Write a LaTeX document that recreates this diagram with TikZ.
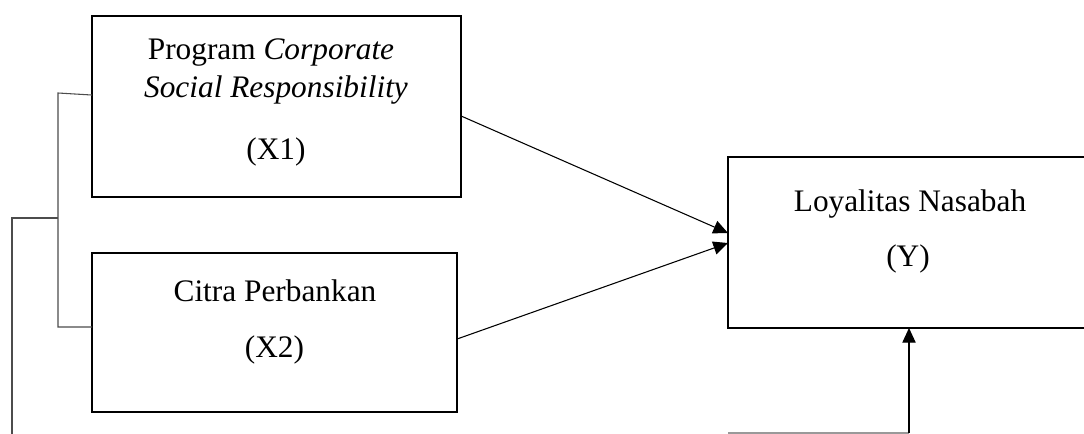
\documentclass[tikz,border=0pt]{standalone}
\usepackage{fontspec}
\setmainfont{Liberation Serif}
\usetikzlibrary{arrows.meta,calc}
\tikzset{
  box/.style={draw=black, line width=1.5pt, rectangle, inner sep=0pt, outer sep=0pt},
  lbl/.style={anchor=base, inner sep=0pt, font=\fontsize{23.5}{28}\selectfont},
  conn/.style={draw=black, line width=0.8pt, -{Triangle[length=11pt,width=10pt]}},
  brk/.style={draw=black!70, line width=0.8pt},
  faint/.style={draw=black!40, line width=0.8pt}
}
\begin{document}
\begin{tikzpicture}[x=0.75pt,y=-0.75pt]
\useasboundingbox (0,0) rectangle (1084,434);
\clip (0,0) rectangle (1084,434);
\fill[white] (0,0) rectangle (1084,434);
% boxes
\node[box, minimum width=276.75pt, minimum height=135.75pt] (X1) at (276.5,106.5) {};
\node[box, minimum width=273.75pt, minimum height=119.25pt] (X2) at (274.5,332.5) {};
\node[box, minimum width=269.25pt, minimum height=128.25pt] (Y) at (907.5,242.5) {};
% texts
\node[lbl] (t1a) at (271,60) {Program \textit{Corporate}};
\node[lbl] (t1b) at (276,98) {\textit{Social Responsibility}};
\node[lbl] (t1c) at (276,160) {(X1)};
\node[lbl] (t2a) at (275,301) {Citra Perbankan};
\node[lbl] (t2b) at (274.5,357) {(X2)};
\node[lbl] (t3a) at (910,212) {Loyalitas Nasabah};
\node[lbl] (t3b) at (908,267) {(Y)};
% connectors
\draw[conn] ([yshift=-7.1pt]X1.east) -- ([yshift=7.1pt]Y.west);
\draw[conn] ([yshift=-4.9pt]X2.east) -- ([yshift=-0.4pt]Y.west);
% bracket
\coordinate (bt) at (58,93);
\coordinate (bb) at (58,327);
\coordinate (bm) at (58,218);
\coordinate (bl) at (12,218);
\coordinate (bd) at (12,434);
\draw[brk] ([yshift=8.6pt]X1.west) -- (bt) -- (bb) -- (bb -| X2.west);
\draw[brk] (bm) -- (bl) -- (bd);
% bottom link
\coordinate (b1) at (728,433);
\coordinate (b2) at (909,433);
\draw[faint] (b1) -- (b2);
\draw[conn] (b2) -- (b2 |- Y.south);
\end{tikzpicture}
\end{document}
